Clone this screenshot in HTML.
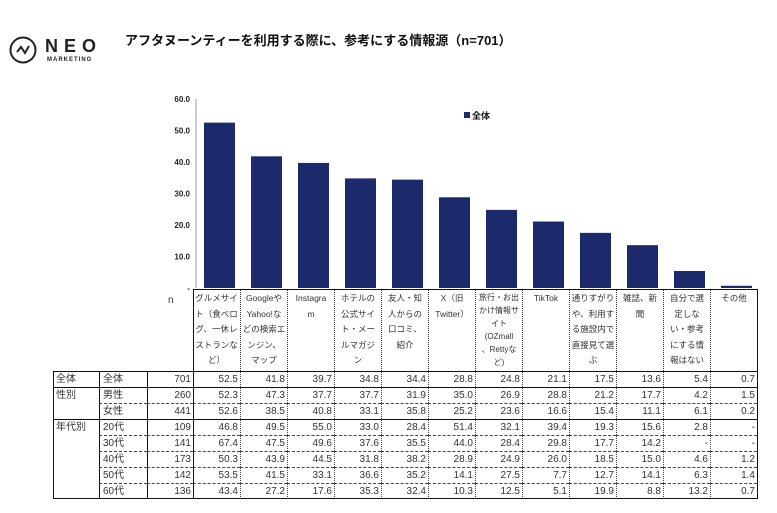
<!DOCTYPE html>
<html><head><meta charset="utf-8">
<style>
body{margin:0;width:777px;height:513px;background:#fff;font-family:"Liberation Sans","Noto Sans CJK JP",sans-serif;position:relative;overflow:hidden;color:#222}
.abs{position:absolute}
.hc{position:absolute;top:290px;height:81px;width:47px;font-size:8.5px;line-height:15.5px;text-align:center;color:#333;box-sizing:border-box;padding-top:1px;border-left:1px dotted #333;white-space:pre-line;overflow:hidden}
.cell{position:absolute;height:16px;font-size:10px;line-height:16px;color:#333;box-sizing:border-box;}
</style></head><body>
<div class="abs" style="left:9px;top:36px;width:110px;height:36px">
<svg width="30" height="30" style="position:absolute;left:0;top:0"><circle cx="14" cy="14" r="12.5" fill="none" stroke="#222" stroke-width="2"/><polyline points="8,16 12,11 16,17 20,10" fill="none" stroke="#222" stroke-width="2"/></svg>
<div class="abs" style="left:36px;top:0px;font-size:18px;font-weight:bold;letter-spacing:6px;color:#222">NEO</div>
<div class="abs" style="left:38px;top:21px;font-size:6px;font-weight:bold;letter-spacing:1px;color:#222">MARKETING</div>
</div>
<div class="abs" style="left:125px;top:30px;font-size:13px;font-weight:bold;color:#111">アフタヌーンティーを利用する際に、参考にする情報源（n=701）</div>
<svg id="chart" class="abs" style="left:0;top:0" width="777" height="300"></svg>
<div id="tbl"></div>
<script>
const categories=["グルメサイト（食べログ、一休レストランなど）","GoogleやYahoo!などの検索エンジン、マップ","Instagram","ホテルの公式サイト・メールマガジン","友人・知人からの口コミ、紹介","X（旧Twitter）","旅行・お出かけ情報サイト（OZmall、Rettyなど）","TikTok","通りすがりや、利用する施設内で直接見て選ぶ","雑誌、新聞","自分で選定しない・参考にする情報はない","その他"];
const headerLabels=["グルメサイ\nト（食べロ\nグ、一休レ\nストランな\nど）","Googleや\nYahoo!な\nどの検索エ\nンジン、\nマップ","Instagra\nm","ホテルの\n公式サイ\nト・メー\nルマガジ\nン","友人・知\n人からの\n口コミ、\n紹介","X（旧\nTwitter）","旅行・お出\nかけ情報サ\nイト\n(OZmall\n、Rettyな\nど)","TikTok","通りすがり\nや、利用す\nる施設内で\n直接見て選\nぶ","雑誌、新\n聞","自分で選\n定しな\nい・参考\nにする情\n報はない","その他"];
const totalValues=[52.5,41.8,39.7,34.8,34.4,28.8,24.8,21.1,17.5,13.6,5.4,0.7];
const yTicks=[0,10,20,30,40,50,60];
const groupLabels=["全体","性別","","年代別","","","",""];
const rowLabels=["全体","男性","女性","20代","30代","40代","50代","60代"];
const rowN=[701,260,441,109,141,173,142,136];
const row0=[52.5,41.8,39.7,34.8,34.4,28.8,24.8,21.1,17.5,13.6,5.4,0.7];
const row1=[52.3,47.3,37.7,37.7,31.9,35.0,26.9,28.8,21.2,17.7,4.2,1.5];
const row2=[52.6,38.5,40.8,33.1,35.8,25.2,23.6,16.6,15.4,11.1,6.1,0.2];
const row3=[46.8,49.5,55.0,33.0,28.4,51.4,32.1,39.4,19.3,15.6,2.8,null];
const row4=[67.4,47.5,49.6,37.6,35.5,44.0,28.4,29.8,17.7,14.2,null,null];
const row5=[50.3,43.9,44.5,31.8,38.2,28.9,24.9,26.0,18.5,15.0,4.6,1.2];
const row6=[53.5,41.5,33.1,36.6,35.2,14.1,27.5,7.7,12.7,14.1,6.3,1.4];
const row7=[43.4,27.2,17.6,35.3,32.4,10.3,12.5,5.1,19.9,8.8,13.2,0.7];
const rows=[row0,row1,row2,row3,row4,row5,row6,row7];

const NS="http://www.w3.org/2000/svg";
const svg=document.getElementById('chart');
const x0=193,colW=47,yBase=288,yTop=99,yMax=60;
const yS=v=>yBase-(v/yMax)*(yBase-yTop);
const xS=i=>x0+i*colW;
function mk(t,a){const e=document.createElementNS(NS,t);for(const k in a)e.setAttribute(k,a[k]);svg.appendChild(e);return e;}
let ax=mk('line',{x1:196,y1:yTop,x2:196,y2:yBase,stroke:'#999','stroke-width':1});


yTicks.forEach(t=>{
 const tx=mk('text',{x:190,y:yS(t)+3,'font-size':'8','font-weight':'bold','text-anchor':'end',fill:'#222','font-family':'Liberation Sans, sans-serif'});
 tx.textContent=t===0?'-':t.toFixed(1);
 
 
});
totalValues.forEach((v,i)=>{
 const r=mk('rect',{x:xS(i)+11,y:yS(v),width:31,height:yBase-yS(v),fill:'#1c2a6b'});
 
 
});
const lg=mk('rect',{x:464,y:112,width:6,height:6,fill:'#1c2a6b'});


const lt=mk('text',{x:472,y:119,'font-size':'9','font-weight':'bold',fill:'#111','font-family':'Liberation Sans, Noto Sans CJK JP, sans-serif'});
lt.textContent='全体';



const tbl=document.getElementById('tbl');
function div(cls,style,txt){const d=document.createElement('div');d.className=cls;d.style.cssText=style;if(txt!==undefined)d.textContent=txt;tbl.appendChild(d);return d;}
const nl=div('abs','left:168px;top:295px;font-size:10px;color:#333','n');


const hb=div('abs','left:193px;top:289px;width:564px;height:82px;border-top:1px solid #111;border-left:1px solid #111;box-sizing:border-box');


headerLabels.forEach((h,i)=>{
 const lines=h.split('\n').length;
 const lh=lines>5?'line-height:13px;font-size:8px;':'';
 const c=div('hc','left:'+xS(i)+'px;'+lh+(i===0?'border-left:none;':''),h);
 
 
});
const rTop=371,rH=16;
rows.forEach((vals,r)=>{
 const y=rTop+r*rH;
 const dashed=(r===2||r>=4);
 const bt=dashed?'border-top:1px dashed #444;':'border-top:1.5px solid #111;';
 if(r===0||r===1||r===3){
  const g=div('cell','left:53px;top:'+y+'px;width:46px;padding-left:3px;border-top:1.5px solid #111;',groupLabels[r]);
  
  
 }
 const l=div('cell','left:99px;top:'+y+'px;width:48px;padding-left:3px;border-left:1.5px solid #111;'+bt,rowLabels[r]);
 
 
 const n=div('cell','left:147px;top:'+y+'px;width:46px;text-align:right;padding-right:2px;border-left:1.5px solid #111;'+bt,rowN[r]);
 
 
 vals.forEach((v,i)=>{
  const c=div('cell','left:'+xS(i)+'px;top:'+y+'px;width:47px;text-align:right;padding-right:2px;border-left:'+(i===0?'1.5px solid #111':'1px dotted #444')+';'+bt,v===null?'-':v.toFixed(1));
  
  
 });
});
const fr=div('abs','left:53px;top:371px;width:705px;height:128px;border:1.5px solid #111;box-sizing:border-box');


const rb=div('abs','left:757px;top:289px;width:1px;height:82px;background:#111');


</script>
</body></html>
